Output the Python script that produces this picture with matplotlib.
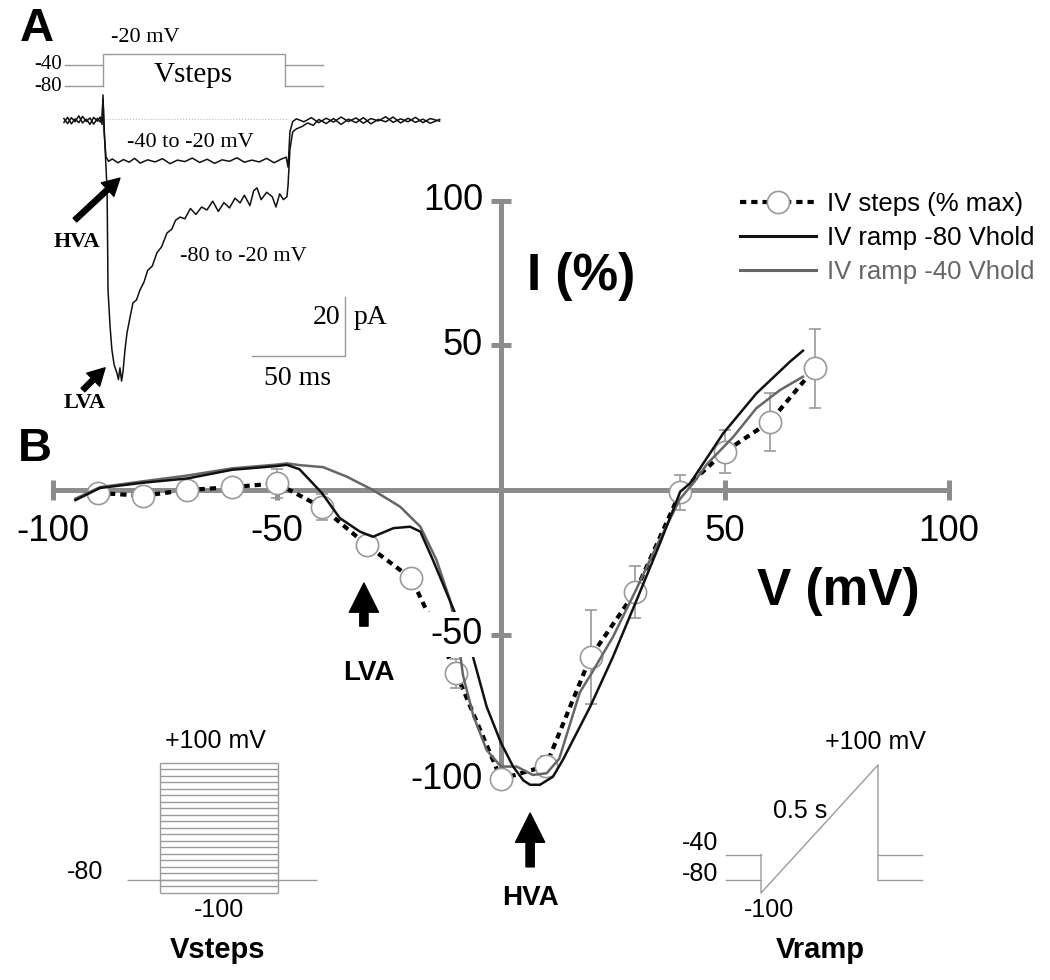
import matplotlib
matplotlib.use("Agg")
import matplotlib.pyplot as plt
from matplotlib.lines import Line2D
from matplotlib.patches import ArrowStyle

plt.rcParams['font.family'] = ['Liberation Sans', 'DejaVu Sans']

# ---- B: IV data ----
step_v = [-90, -80, -70, -60, -50, -40, -30, -20, -10, 0, 10, 20, 30, 40, 50, 60, 70]
step_i = [-1, -2, 0, 1, 2.3, -6, -19, -30.6, -63.4, -100, -95.5, -57.7, -35.2, -0.8, 13.3, 23.6, 42.1]
step_err = [1, 1, 1, 1, 5, 4.5, 2, 2, 5, 2, 3.5, 16.3, 9, 6, 7.3, 10, 13.7]

ramp80_v = [-95, -89.5, -80, -70, -60, -50, -47.8, -45, -43.4, -40, -36, -31.5, -28.6, -26, -24,
            -20.3, -18, -15.2, -12.1, -9.6, -6.2, -3.2, 0, 2.7, 5, 6.5, 8.7, 11.6, 13.8, 19.9, 25,
            30.3, 35.5, 40, 42.2, 49.6, 57, 64.5, 67.4]
ramp80_i = [-3.5, 0.7, 2.5, 4, 7, 8.3, 8.7, 7.2, 4.6, -1, -9.7, -14.4, -16.2, -14.5, -13.2,
            -12.7, -14.4, -24.2, -35.7, -45, -58, -75, -87.5, -95.7, -100.5, -102, -102, -99.2, -93.4, -75, -57.7,
            -38, -18.4, -0.6, 2.3, 19.6, 33.4, 44.4, 48.2]

ramp40_v = [-95, -89.5, -80, -70, -60, -50, -47.8, -44.9, -39.7, -34.4, -28.6, -22.5, -18, -14.4,
            -11.4, -9.5, -8.5, -6.2, -3.2, 0, 3.5, 7.1, 10.2, 13, 17.6, 20, 25, 30, 35, 40, 42.9,
            46, 51.8, 57, 62.3, 67.4]
ramp40_i = [-3, 1, 3, 5, 7.5, 8.8, 9.2, 8.6, 7.9, 4.6, 0, -5.8, -12.7, -24.2,
            -38, -52, -64, -78, -90, -95.7, -95.7, -98.6, -98, -93, -70, -64, -50.8, -35, -18.5, -3, 2.3,
            9, 18.3, 28.3, 34.6, 39.2]

# ---- A: current traces (ms, pA) ----
a40_t = [-21, -19, -17, -15, -13, -11, -9, -7, -5, -3, -1.5, -0.5, 0, 0.6, 1.6, 3, 5, 8, 11, 14, 17, 20,
         24, 28, 32, 36, 40, 44, 48, 52, 56, 60, 64, 68, 72, 76, 80, 84, 88, 92, 96, 98.5, 99.5, 100.5,
         102, 104, 108, 112, 116, 120, 124, 128, 132, 136, 140, 144, 148, 152, 156, 160, 164, 168, 172,
         176, 181]
a40_i = [0.5, -1.2, 0.8, -0.6, 1.4, -1.0, 0.3, -1.5, 0.9, -0.4, 1.0, -1.5, 8.5, -4, -12.5, -14.0, -13.2,
         -14.5, -13.4, -14.3, -13.0, -14.6, -13.5, -14.2, -13.1, -14.8, -13.6, -14.1, -12.9, -14.4, -13.3,
         -14.7, -13.5, -14.0, -12.8, -14.3, -13.6, -14.2, -13.0, -14.5, -13.2, -12.6, -16.0, -4.0, -0.5,
         0.4, -0.6, 0.8, -0.9, 0.6, -0.7, 1.0, -0.5, 0.7, -1.1, 0.5, -0.3, 1.1, -0.8, 0.4, -0.6, 0.9, -0.9,
         0.5, -0.4]

a80_t = [-21, -19, -17, -15, -13, -11, -9, -7, -5, -3, -1.5, -0.5, 0, 1, 2.2, 2.7, 3.8, 4.8, 6, 7.5,
         8.3, 9.1, 10, 10.8, 11.8, 12.9, 14.5, 16.1, 18, 19.9, 22, 24, 26.5, 29, 31.5, 34.4, 37, 39,
         41.4, 44, 47, 50, 53, 55.9, 59, 62, 65, 68, 71, 73.7, 76, 79, 81, 82.8, 85, 88, 91, 93, 95,
         97, 98.9, 99.5, 100.5, 102, 104, 107, 110, 113, 116, 120, 124, 128, 132, 136, 140, 144, 148,
         152, 156, 160, 164, 168, 172, 176, 181]
a80_i = [-0.8, 0.9, -1.3, 0.4, -0.9, 1.2, -0.5, 0.7, -1.4, 0.6, -0.7, 0.9, 7, -8, -23.7, -57.6, -70,
         -78, -83, -85.8, -88, -84, -88.5, -85, -78, -72.2, -67, -62, -61, -57.6, -55, -51, -49.5, -45,
         -43, -38.3, -37, -34, -32.9, -33.5, -30, -32, -29.5, -30.5, -27.5, -31, -28, -29.8, -26.5,
         -28.1, -25.5, -29, -24, -23, -27, -24.5, -26, -29.5, -25, -27, -26, -22, -10, -4, -3, -2.2,
         -1, -1.8, 0.2, -1.2, 0.5, -1.5, 0.3, -0.9, 0.8, -1.3, 0.2, -0.6, 1.0, -1.0, 0.6, -0.8, 0.3,
         -1.1, 0.2]

# ---- protocols (ms, mV) ----
a_hold = [-40, -80]
a_test = -20
a_step_ms = 98
vstep_levels = list(range(-100, 101, 10))
vstep_hold = -80
vstep_ms = 100
vramp_hold = [-40, -80]
vramp_range = [-100, 100]
vramp_ms = 500

W, H = 1050, 980
fig = plt.figure(figsize=(10.5, 9.8), dpi=100)

GRAY_AX = '#8c8c8c'
PROT = '#9a9a9a'


def px_axes(x0, y0, x1, y1, xlim, ylim):
    a = fig.add_axes([x0 / W, 1 - y1 / H, (x1 - x0) / W, (y1 - y0) / H])
    a.set_xlim(*xlim)
    a.set_ylim(*ylim)
    a.set_axis_off()
    a.patch.set_facecolor('none')
    return a


# ================= B main plot =================
ax = fig.add_axes([0, 0, 1, 1])
ax.set_xlim(-501 / 4.48, 549 / 4.48)
ax.set_ylim(-490 / 2.89, 490 / 2.89)
for s in ['top', 'right']:
    ax.spines[s].set_visible(False)
for s in ['left', 'bottom']:
    ax.spines[s].set_position(('data', 0))
    ax.spines[s].set_bounds(-100, 100)
    ax.spines[s].set_color(GRAY_AX)
    ax.spines[s].set_linewidth(3.6)
    ax.spines[s].set_zorder(0.5)
ax.set_axisbelow(True)
ax.set_xticks([-100, -50, 50, 100])
ax.set_yticks([-100, -50, 50, 100])
ax.tick_params(direction='inout', length=15, width=3.6, color=GRAY_AX,
               labelleft=False, labelbottom=False)
ax.patch.set_facecolor('white')

for v in [-100, -50, 50, 100]:
    ax.text(v, -14.5, str(v), fontsize=26.5, ha='center', va='center', zorder=6)
for v in [-100, -50, 50, 100]:
    ax.text(-4.0, v, str(v), fontsize=26, ha='right', va='center', zorder=6,
            bbox=dict(boxstyle='square,pad=0.15', fc='white', ec='none'))

ax.text(5.8, 69.2, 'I (%)', fontsize=37, fontweight='bold', ha='left', va='baseline')
ax.text(57.1, -39.8, 'V (mV)', fontsize=37, fontweight='bold', ha='left', va='baseline')

dots = (0, (1.5, 1.2))
ax.plot(step_v, step_i, ls=dots, lw=3, color='black', zorder=3)
ax.errorbar(step_v, step_i, yerr=step_err, fmt='none', ecolor=PROT, elinewidth=1.2,
            capsize=4.5, capthick=1.2, zorder=3.5)
ax.plot(step_v, step_i, 'o', ms=16, mfc='white', mec=PROT, mew=1.2, zorder=4)
ax.plot(ramp40_v, ramp40_i, color='#666666', lw=1.8, zorder=5)
ax.plot(ramp80_v, ramp80_i, color='#111111', lw=1.8, zorder=5.1)

handles = [Line2D([], [], color='black', ls=dots, lw=3, marker='o', ms=16,
                  mfc='white', mec=PROT, mew=1.2),
           Line2D([], [], color='#111111', lw=2.2),
           Line2D([], [], color='#666666', lw=2.2)]
leg = ax.legend(handles, ['IV steps (% max)', 'IV ramp -80 Vhold', 'IV ramp -40 Vhold'],
                loc='upper left', bbox_to_anchor=(740 / W, 1 - 192 / H),
                bbox_transform=fig.transFigure, frameon=False, fontsize=18.5,
                handlelength=2.95, handletextpad=0.42, labelspacing=0.38,
                borderpad=0, borderaxespad=0, numpoints=1)
leg.get_texts()[2].set_color('#666666')

big_arrow = ArrowStyle.Simple(head_length=0.6, head_width=0.6, tail_width=0.17)
ax.annotate('', xy=(-30.6, -32.2), xytext=(-30.6, -47.1),
            arrowprops=dict(arrowstyle=big_arrow, color='black', mutation_scale=35,
                            shrinkA=0, shrinkB=0))
ax.text(-29.5, -65.7, 'LVA', fontsize=20, fontweight='bold', ha='center', va='baseline')
ax.annotate('', xy=(6.5, -111.8), xytext=(6.5, -130.4),
            arrowprops=dict(arrowstyle=big_arrow, color='black', mutation_scale=35,
                            shrinkA=0, shrinkB=0))
ax.text(6.5, -143.6, 'HVA', fontsize=20, fontweight='bold', ha='center', va='baseline')

fig.text(20 / W, 1 - 29 / H, 'A', fontsize=34, fontweight='bold', ha='left', va='center')
fig.text(18 / W, 1 - 449 / H, 'B', fontsize=34, fontweight='bold', ha='left', va='center')

# ================= A: traces =================
serif = ['Liberation Serif', 'DejaVu Serif']
ta = px_axes(40, 30, 460, 420, (-33.87, 191.94), (-101.69, 30.51))
ta.plot([0, 100], [0.5, 0.5], color='#bbbbbb', lw=0.8, ls=':')
ta.plot(a40_t, a40_i, color='#111111', lw=1.1)
ta.plot(a80_t, a80_i, color='#111111', lw=1.1)
ta.text(46.8, -7.5, '-40 to -20 mV', fontsize=16, family=serif, ha='center', va='center')
ta.text(75.3, -46.4, '-80 to -20 mV', fontsize=16, family=serif, ha='center', va='center')
ta.plot([80, 130, 130], [-80, -80, -60], color=PROT, lw=1)
ta.text(127.4, -67.1, '20', fontsize=20, family=serif, ha='right', va='center')
ta.text(134.9, -67.1, 'pA', fontsize=20, family=serif, ha='left', va='center')
ta.text(104.8, -87.5, '50 ms', fontsize=20, family=serif, ha='center', va='center')
small_arrow = ArrowStyle.Simple(head_length=0.55, head_width=0.6, tail_width=0.17)
ta.annotate('', xy=(9.1, -19.7), xytext=(-15.1, -33.9),
            arrowprops=dict(arrowstyle=small_arrow, color='black', mutation_scale=22,
                            shrinkA=0, shrinkB=0))
ta.annotate('', xy=(1.1, -84), xytext=(-10.8, -91.5),
            arrowprops=dict(arrowstyle=small_arrow, color='black', mutation_scale=22,
                            shrinkA=0, shrinkB=0))
ta.text(-14, -41.4, 'HVA', fontsize=16, fontweight='bold', family=serif, ha='center', va='center')
ta.text(-9.7, -95.9, 'LVA', fontsize=16, fontweight='bold', family=serif, ha='center', va='center')

# A protocol
pa = px_axes(40, 30, 460, 110, (-33.87, 191.94), (-125.1, 25.3))
for lv in a_hold:
    pa.plot([-20.4, 0], [lv, lv], color=PROT, lw=1)
    pa.plot([a_step_ms, 118.3], [lv, lv], color=PROT, lw=1)
pa.plot([0, 0, a_step_ms, a_step_ms], [min(a_hold), a_test, a_test, min(a_hold)], color=PROT, lw=1)
for lv in a_hold:
    pa.text(-22, lv, str(lv), fontsize=15, family=serif, ha='right', va='center')
pa.text(22.6, 10.3, '%d mV' % a_test, fontsize=16, family=serif, ha='center', va='center')
pa.text(48.4, -59.3, 'Vsteps', fontsize=21, family=serif, ha='center', va='center')

# ================= Vsteps protocol inset =================
vs = px_axes(120, 750, 330, 900, (-33.9, 144.1), (-110.8, 120))
vs.hlines(vstep_levels, 0, vstep_ms, color=PROT, lw=1)
vs.vlines([0, vstep_ms], min(vstep_levels), max(vstep_levels), color=PROT, lw=1)
vs.hlines(vstep_hold, -28, 133, color=PROT, lw=1)
vs.text(46.6, 133.8, '+100 mV', fontsize=18, ha='center', va='center', clip_on=False)
vs.text(50, -126, '-100', fontsize=18, ha='center', va='center', clip_on=False)
vs.text(-48.3, -67.7, '-80', fontsize=18, ha='right', va='center', clip_on=False)
vs.text(49, -187.7, 'Vsteps', fontsize=21, fontweight='bold', ha='center', va='center', clip_on=False)

# ================= Vramp protocol inset =================
vr = px_axes(705, 755, 935, 900, (-239.3, 743.6), (-110.9, 115.6))
for lv in vramp_hold:
    vr.plot([-150, 0], [lv, lv], color=PROT, lw=1)
    vr.plot([vramp_ms, 690], [lv, lv], color=PROT, lw=1)
vr.plot([0, 0, vramp_ms, vramp_ms],
        [max(vramp_hold), vramp_range[0], vramp_range[1], min(vramp_hold)], color=PROT, lw=1)
vr.text(487, 136, '+100 mV', fontsize=18, ha='center', va='center', clip_on=False)
vr.text(167, 28.1, '0.5 s', fontsize=18, ha='center', va='center', clip_on=False)
vr.text(-184, -21.9, '-40', fontsize=18, ha='right', va='center', clip_on=False)
vr.text(-184, -70.3, '-80', fontsize=18, ha='right', va='center', clip_on=False)
vr.text(34, -126.6, '-100', fontsize=18, ha='center', va='center', clip_on=False)
vr.text(252, -189, 'Vramp', fontsize=21, fontweight='bold', ha='center', va='center', clip_on=False)

fig.savefig('out.png', dpi=100)
